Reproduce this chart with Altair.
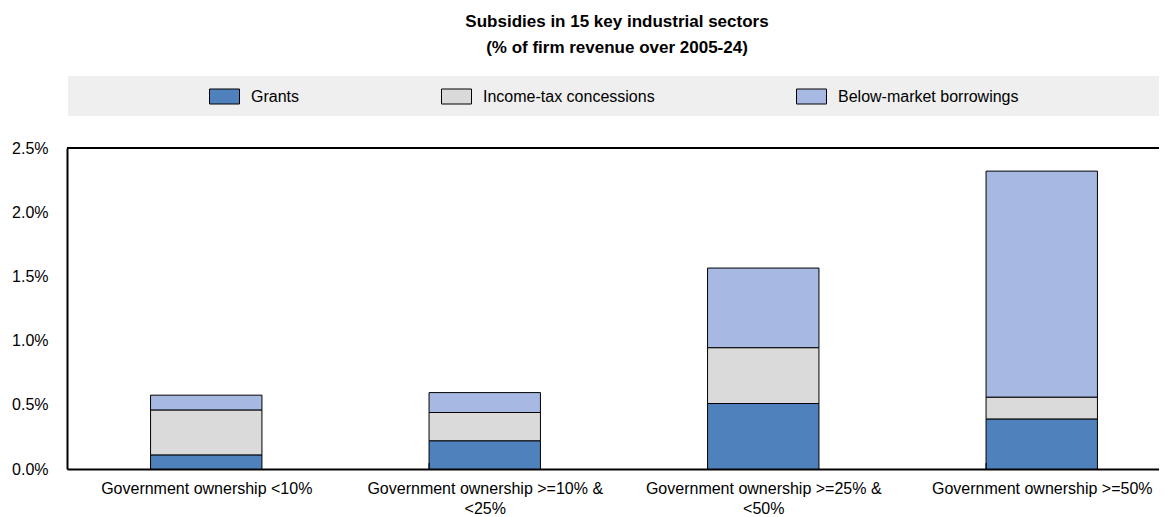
import altair as alt
import pandas as pd

categories = [
    "Government ownership <10%",
    "Government ownership >=10% & <25%",
    "Government ownership >=25% & <50%",
    "Government ownership >=50%",
]
series = ["Grants", "Income-tax concessions", "Below-market borrowings"]
grants = [0.11, 0.22, 0.51, 0.39]
income_tax = [0.35, 0.22, 0.435, 0.17]
borrowings = [0.115, 0.155, 0.62, 1.76]
colors = ["#4F81BD", "#DADADA", "#A7B9E3"]
y_ticks = [0, 0.5, 1.0, 1.5, 2.0, 2.5]
title_lines = ["Subsidies in 15 key industrial sectors", "(% of firm revenue over 2005-24)"]

rows = []
for s_i, (name, vals) in enumerate(zip(series, [grants, income_tax, borrowings])):
    for c, v in zip(categories, vals):
        rows.append({"cat": c, "series": name, "value": v, "order": s_i})
df = pd.DataFrame(rows)

FONT = "Liberation Sans, Arial, sans-serif"
W = 1092      # visible plot width
RANGE = 1114  # full band range (chart continues past the window edge)
H = 321

x_enc = alt.X(
    "cat:N",
    sort=categories,
    title=None,
    scale=alt.Scale(range=[0, RANGE], paddingInner=0.6, paddingOuter=0.3),
    axis=alt.Axis(
        labelAngle=0,
        labelFont=FONT,
        labelFontSize=16,
        labelColor="#000000",
        labelPadding=11,
        labelLineHeight=20,
        labelLimit=400,
        ticks=False,
        domain=True,
        domainColor="#000000",
        domainWidth=2,
        grid=True,
        gridColor="#FFFFFF",
        gridWidth=1,
        tickBand="extent",
        labelExpr="indexof(datum.label,'& ')>=0 ? [substring(datum.label,0,indexof(datum.label,'& ')+1), substring(datum.label,indexof(datum.label,'& ')+2)] : datum.label",
    ),
)

bars = alt.Chart(df).mark_bar(stroke="#000000", strokeWidth=1).encode(
    x=x_enc,
    y=alt.Y(
        "value:Q",
        stack="zero",
        title=None,
        scale=alt.Scale(domain=[0, 2.5], nice=False),
        axis=alt.Axis(
            values=y_ticks,
            labelExpr="format(datum.value, '.1f') + '%'",
            labelFont=FONT,
            labelFontSize=16,
            labelColor="#000000",
            labelPadding=19,
            ticks=False,
            domain=True,
            domainColor="#000000",
            domainWidth=2,
            grid=True,
            gridColor="#FFFFFF",
            gridWidth=1,
        ),
    ),
    color=alt.Color(
        "series:N",
        sort=series,
        scale=alt.Scale(domain=series, range=colors),
        legend=alt.Legend(
            title=None,
            orient="none",
            legendX=142,
            legendY=-67,
            direction="horizontal",
            columns=3,
            columnPadding=139,
            labelFont=FONT,
            labelFontSize=16,
            labelColor="#000000",
            labelOffset=11,
            symbolType="M-1,-0.5H1V0.5H-1Z",
            symbolSize=900,
            symbolStrokeColor="#000000",
            symbolStrokeWidth=1,
            symbolOpacity=1,
            padding=0,
            labelLimit=400,
        ),
    ),
    order=alt.Order("order:Q", sort="ascending"),
)

ticks_df = pd.DataFrame({"cat": categories})
ticks = alt.Chart(ticks_df).mark_rule(color="#000000", strokeWidth=1).encode(
    x=alt.X("cat:N", sort=categories, bandPosition=0),
    y=alt.value(H - 6),
    y2=alt.value(H),
)

top_border = alt.Chart(pd.DataFrame({"k": [0]})).mark_rule(color="#000000", strokeWidth=2).encode(
    x=alt.value(0),
    x2=alt.value(RANGE),
    y=alt.value(0),
)

legend_bg = alt.Chart(pd.DataFrame({"k": [0]})).mark_rect(color="#EFEFEF").encode(
    x=alt.value(1),
    x2=alt.value(RANGE),
    y=alt.value(-72),
    y2=alt.value(-32),
)

chart = alt.layer(legend_bg, bars, ticks, top_border).properties(
    width=W,
    height=H,
    autosize=alt.AutoSizeParams(type="none"),
    padding={"left": 59, "top": 140, "right": 0, "bottom": 48},
    title=alt.TitleParams(
        text=title_lines,
        font=FONT,
        fontSize=17,
        fontWeight="bold",
        color="#000000",
        anchor="middle",
        lineHeight=26,
        offset=19,
        dx=4,
    ),
).configure_view(
    fill="#F2FEFF",
    stroke=None,
).configure(background="#FFFFFF")

chart.save("out.html", embed_options={"renderer": "svg", "actions": False})
